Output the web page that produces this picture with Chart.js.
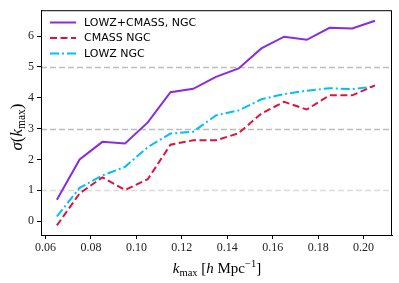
<!DOCTYPE html>
<html>
<head>
<meta charset="utf-8">
<script src="https://cdn.jsdelivr.net/npm/chart.js@4/dist/chart.umd.min.js"></script>
<style>
  html, body { margin: 0; padding: 0; background: #fff; }
  #wrap { width: 399px; height: 283px; }
</style>
</head>
<body>
<div id="wrap"><canvas id="chart" width="399" height="283"></canvas></div>
<script>
// sigma(k_max) for the NGC samples
const K_MAX = [0.065, 0.075, 0.085, 0.095, 0.105, 0.115, 0.125, 0.135, 0.145, 0.155, 0.165, 0.175, 0.185, 0.195, 0.205];
const SIGMA_COMBINED = [0.69, 2.0, 2.57, 2.52, 3.2, 4.18, 4.29, 4.68, 4.95, 5.6, 5.98, 5.88, 6.27, 6.25, 6.5];
const SIGMA_CMASS = [-0.14, 0.9, 1.42, 1.01, 1.36, 2.48, 2.62, 2.62, 2.85, 3.49, 3.87, 3.62, 4.08, 4.08, 4.4];
const SIGMA_LOWZ = [0.15, 1.08, 1.48, 1.76, 2.4, 2.84, 2.9, 3.43, 3.59, 3.95, 4.12, 4.23, 4.31, 4.28, 4.37];
const SERIES_LABELS = ['LOWZ+CMASS, NGC', 'CMASS NGC', 'LOWZ NGC'];
const X_TICKS = [0.06, 0.08, 0.10, 0.12, 0.14, 0.16, 0.18, 0.20];
const Y_TICKS = [0, 1, 2, 3, 4, 5, 6];
const REF_LINES = [1, 3, 5]; // dashed horizontal reference lines

const SERIF = '"Liberation Serif", "DejaVu Serif", serif';
const SANS = '"DejaVu Sans", sans-serif';

function pts(vals){ return K_MAX.map((k, i) => ({x: k, y: vals[i]})); }

// dashed horizontal lines, drawn under the data
const refLines = {
  id: 'refLines',
  beforeDatasetsDraw(chart){
    const {ctx, chartArea: a, scales: {y}} = chart;
    ctx.save();
    ctx.lineWidth = 1.5;
    ctx.setLineDash([6, 3]);
    REF_LINES.forEach(v => {
      const py = Math.round(y.getPixelForValue(v)) + 0.5;
      ctx.strokeStyle = v === 1 ? '#dcdcdc' : '#bdbdbd';
      ctx.beginPath(); ctx.moveTo(a.left, py); ctx.lineTo(a.right, py); ctx.stroke();
    });
    ctx.restore();
  }
};

// text pieces in mixed fonts, centred on x
function drawRich(ctx, parts, x, y){
  let w = 0;
  parts.forEach(p => { ctx.font = p.font; w += ctx.measureText(p.t).width; });
  let cx = x - w / 2;
  parts.forEach(p => {
    ctx.font = p.font;
    ctx.fillText(p.t, cx, y + (p.dy || 0));
    cx += ctx.measureText(p.t).width;
  });
}

// full box around the axes + legend + axis titles
const extras = {
  id: 'extras',
  afterDraw(chart){
    const {ctx, chartArea: a} = chart;
    ctx.save();
    ctx.strokeStyle = '#000';
    ctx.lineWidth = 1;
    ctx.setLineDash([]);
    ctx.strokeRect(a.left + 0.5, a.top + 0.5, a.right - a.left - 1, a.bottom - a.top);

    // legend
    ctx.textBaseline = 'middle';
    ctx.font = '11px ' + SANS;
    chart.data.datasets.forEach((ds, i) => {
      const yy = 22.5 + i * 15.5;
      ctx.strokeStyle = ds.borderColor;
      ctx.lineWidth = ds.borderWidth;
      ctx.setLineDash(ds.borderDash || []);
      ctx.beginPath(); ctx.moveTo(50, yy); ctx.lineTo(76, yy); ctx.stroke();
      ctx.fillStyle = '#000';
      ctx.fillText(ds.label, 84, yy + 0.5);
    });
    ctx.setLineDash([]);

    // x title
    ctx.fillStyle = '#000';
    ctx.textBaseline = 'alphabetic';
    const big = '15px ' + SERIF, bigI = 'italic 15px ' + SERIF, small = '10.5px ' + SERIF;
    drawRich(ctx, [
      {t: 'k', font: bigI}, {t: 'max', font: small, dy: 3}, {t: ' [', font: big},
      {t: 'h', font: bigI}, {t: ' Mpc', font: big}, {t: '\u22121', font: small, dy: -6}, {t: ']', font: big}
    ], 217, 273);

    // y title
    const yBig = '17px ' + SERIF, yBigI = 'italic 17px ' + SERIF, ySmall = '11.5px ' + SERIF;
    ctx.translate(17, 127);
    ctx.rotate(-Math.PI / 2);
    drawRich(ctx, [
      {t: '\u03c3', font: yBigI}, {t: '(', font: yBig}, {t: 'k', font: yBigI},
      {t: 'max', font: ySmall, dy: 3}, {t: ')', font: yBig}
    ], 0, 5);
    ctx.restore();
  }
};

new Chart(document.getElementById('chart'), {
  type: 'line',
  data: {
    datasets: [
      {label: SERIES_LABELS[0], data: pts(SIGMA_COMBINED), borderColor: '#8a2be2', borderWidth: 2, borderDash: []},
      {label: SERIES_LABELS[1], data: pts(SIGMA_CMASS), borderColor: '#dc143c', borderWidth: 2, borderDash: [7, 3.5]},
      {label: SERIES_LABELS[2], data: pts(SIGMA_LOWZ), borderColor: '#00bfff', borderWidth: 2, borderDash: [9, 3, 2, 3]}
    ]
  },
  options: {
    responsive: false,
    animation: false,
    events: [],
    layout: {padding: {left: 0, right: 7, top: 7, bottom: 0}},
    elements: {point: {radius: 0}, line: {tension: 0, borderCapStyle: 'butt'}},
    plugins: {legend: {display: false}, tooltip: {enabled: false}},
    scales: {
      x: {
        type: 'linear', min: 0.058, max: 0.2125,
        afterBuildTicks: s => { s.ticks = X_TICKS.map(v => ({value: v})); },
        afterFit: s => { s.height = 48; },
        border: {display: true, color: '#000', width: 1},
        grid: {display: true, drawOnChartArea: false, drawTicks: true, tickLength: 4, color: '#000'},
        ticks: {color: '#222', font: {family: SERIF, size: 12}, padding: 2, maxRotation: 0,
                callback: v => v.toFixed(2)}
      },
      y: {
        type: 'linear', min: -0.45, max: 6.84,
        afterBuildTicks: s => { s.ticks = Y_TICKS.map(v => ({value: v})); },
        afterFit: s => { s.width = 41; },
        border: {display: true, color: '#000', width: 1},
        grid: {display: true, drawOnChartArea: false, drawTicks: true, tickLength: 4, color: '#000'},
        ticks: {color: '#222', font: {family: SERIF, size: 12}, padding: 3,
                callback: v => String(v)}
      }
    }
  },
  plugins: [refLines, extras]
});
</script>
</body>
</html>
